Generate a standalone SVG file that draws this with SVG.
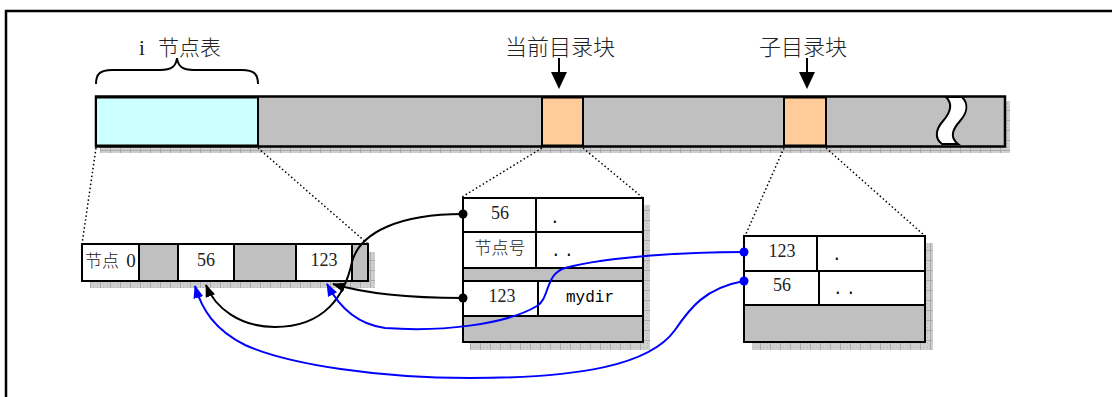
<svg xmlns="http://www.w3.org/2000/svg" width="1112" height="397" viewBox="0 0 1112 397">
<style>
.ln{stroke:#000;stroke-width:2;fill:none}
.box{stroke:#000;stroke-width:2}
.dot{stroke:#000;stroke-width:1.5;stroke-dasharray:1.5 2.5;fill:none}
.cjk{font-family:"Liberation Serif","Noto Sans CJK SC",serif;fill:#222;font-weight:300}
.num{font-family:"Liberation Serif","Noto Sans CJK SC",serif;font-size:18px;fill:#222;text-anchor:middle}
.mono{font-family:"Liberation Mono",monospace;font-size:16px;fill:#000}
.blk{stroke:#000;stroke-width:2;fill:none}
.blu{stroke:#0000ff;stroke-width:2;fill:none}
</style>
<defs>
<pattern id="hatch" width="10" height="10" patternUnits="userSpaceOnUse">
<rect width="10" height="10" fill="#cfcfcf"/>
<path d="M0,0.5H10M0.5,0V10" stroke="#a9a9a9" stroke-width="1"/>
<path d="M3,3h1v1h-1zM7,7h1v1h-1zM7,3h1v1h-1zM3,7h1v1h-1z" fill="#b5b5b5"/>
</pattern>
<marker id="ab" markerWidth="13" markerHeight="10" refX="12" refY="5" orient="auto" markerUnits="userSpaceOnUse">
<path d="M0,0L13,5L0,10z" fill="#000"/>
</marker>
<marker id="au" markerWidth="13" markerHeight="10" refX="12" refY="5" orient="auto" markerUnits="userSpaceOnUse">
<path d="M0,0L13,5L0,10z" fill="#0000ff"/>
</marker>
</defs>
<rect width="1112" height="397" fill="#fff"/>
<rect id="frame" x="6" y="11" width="1200" height="500" fill="none" stroke="#000" stroke-width="2.5"/>

<g id="disk">
<rect x="100" y="147" width="910" height="6" fill="url(#hatch)"/>
<rect x="1005" y="101" width="5" height="52" fill="url(#hatch)"/>
<rect x="96" y="96.5" width="909" height="50" fill="#c0c0c0" stroke="#000" stroke-width="2.5"/>
<rect x="96" y="97.5" width="162" height="48" fill="#ccffff" class="box"/>
<rect x="542" y="97.5" width="41" height="48" fill="#ffcc99" class="box"/>
<rect x="784" y="97.5" width="42" height="48" fill="#ffcc99" class="box"/>
<path d="M946,97 L962,97 C969,104 967,113 960,121 C953,129 949,137 958,144 L942,144 C934,138 936,129 943,121 C950,113 953,104 946,97 Z" fill="#fff" stroke="#000" stroke-width="2"/>
</g>

<g id="inode-label">
<path class="ln" d="M96,84 C96,74 100,70 112,70 L160,70 C172,70 176,66 177,58 C178,66 182,70 194,70 L242,70 C254,70 258,74 258,84"/>
<text class="cjk" x="180" y="55" font-size="21" text-anchor="middle" word-spacing="8">i 节点表</text>
</g>

<g id="cur-label">
<text class="cjk" x="560" y="55" font-size="22" text-anchor="middle">当前目录块</text>
<path d="M559,58V74" class="ln"/>
<path d="M551,72L567,72L559,89z" fill="#000"/>
</g>

<g id="sub-label">
<text class="cjk" x="803" y="55" font-size="22" text-anchor="middle">子目录块</text>
<path d="M807,58V74" class="ln"/>
<path d="M799,72L815,72L807,89z" fill="#000"/>
</g>

<g id="zoom-lines">
<path class="dot" d="M96,148L82,244M258,148L368,244M542,148L462,197M583,148L642,197M784,148L745,236M826,148L925,236"/>
</g>

<g id="inode-table">
<rect x="90" y="281" width="285" height="7" fill="url(#hatch)"/>
<rect x="368" y="252" width="7" height="36" fill="url(#hatch)"/>
<rect x="82" y="244" width="286" height="37" fill="#fff" class="box"/>
<rect x="139" y="244" width="39" height="37" fill="#c0c0c0" class="box"/>
<rect x="234" y="244" width="62" height="37" fill="#c0c0c0" class="box"/>
<rect x="352" y="244" width="16" height="37" fill="#c0c0c0" class="box"/>
<text class="cjk" x="85" y="267" font-size="17" word-spacing="3">节点 <tspan font-size="19">0</tspan></text>
<text class="num" x="206" y="266">56</text>
<text class="num" x="324" y="266">123</text>
</g>

<g id="cur-dir">
<rect x="470" y="342" width="180" height="8" fill="url(#hatch)"/>
<rect x="643" y="205" width="7" height="145" fill="url(#hatch)"/>
<rect x="463" y="198" width="180" height="144" fill="#fff" class="box"/>
<rect x="463" y="268" width="180" height="13" fill="#c0c0c0" class="box"/>
<rect x="463" y="316" width="180" height="26" fill="#c0c0c0" class="box"/>
<path class="ln" d="M463,232H643M536,198V268M538,281V316"/>
<text class="num" x="500" y="219">56</text>
<text class="cjk" x="500" y="254" font-size="17" text-anchor="middle">节点号</text>
<text class="num" x="502" y="302">123</text>
<text class="mono" x="550" y="223">.</text>
<text class="mono" x="551" y="256" letter-spacing="3.5">..</text>
<text class="mono" x="590" y="302" text-anchor="middle">mydir</text>
</g>

<g id="sub-dir">
<rect x="752" y="342" width="181" height="8" fill="url(#hatch)"/>
<rect x="925" y="243" width="8" height="107" fill="url(#hatch)"/>
<rect x="744" y="236" width="181" height="106" fill="#fff" class="box"/>
<rect x="744" y="305" width="181" height="37" fill="#c0c0c0" class="box"/>
<path class="ln" d="M744,271H925M817,236V271M819,271V305"/>
<text class="num" x="782" y="257">123</text>
<text class="num" x="782" y="291">56</text>
<text class="mono" x="832" y="260">.</text>
<text class="mono" x="833" y="294" letter-spacing="3.5">..</text>
</g>

<g id="connectors">
<path class="blk" d="M463,214 C400,214 360,232 352,262 C345,295 325,327 275,327 C240,327 215,308 206,285" marker-end="url(#ab)"/>
<path class="blk" d="M463,298 C420,298 370,295 333,284" marker-end="url(#ab)"/>
<path class="blu" d="M744,252 C690,252 610,256 565,268 C545,274 550,298 537,306 C505,325 440,332 385,328 C355,324 338,305 327,284" marker-end="url(#au)"/>
<path class="blu" d="M744,281 C705,288 690,308 675,330 C650,365 580,378 470,378 C380,378 290,365 245,345 C215,330 202,310 195,286" marker-end="url(#au)"/>
<circle cx="463" cy="214" r="4.5" fill="#000"/>
<circle cx="463" cy="298" r="4.5" fill="#000"/>
<circle cx="744" cy="252" r="4.5" fill="#0000ff"/>
<circle cx="744" cy="281" r="4.5" fill="#0000ff"/>
</g>
</svg>
